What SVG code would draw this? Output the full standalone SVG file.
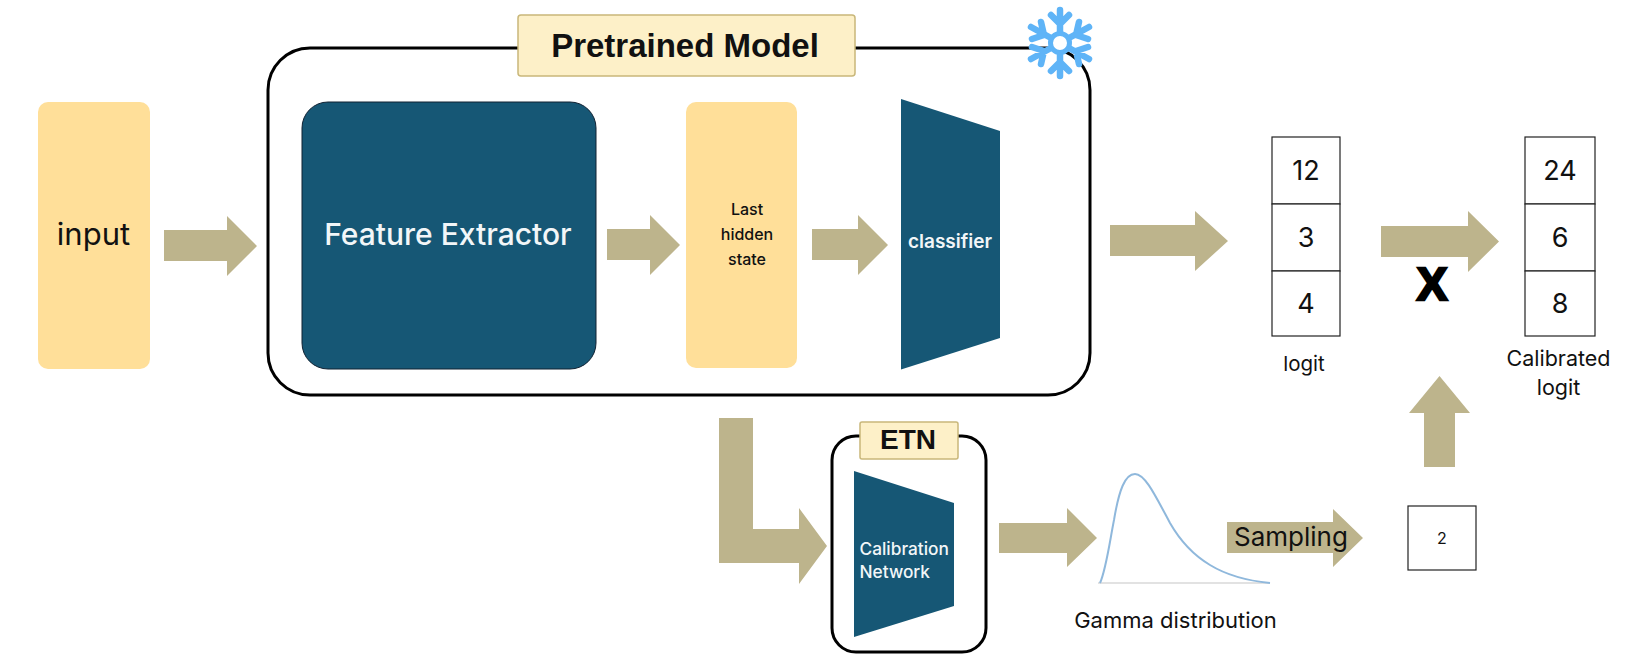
<svg xmlns="http://www.w3.org/2000/svg" width="1632" height="666" viewBox="0 0 1632 666">
<defs><style>
text{font-family:"Inter","Liberation Sans",sans-serif;text-anchor:middle;fill:#111}
.bold{font-family:"Liberation Sans",sans-serif;font-weight:700}
.a{fill:#bdb48c}
.y{fill:#ffdf99}
.b{fill:#165775}
.w{fill:#f2f6f8}
.t{fill:#fdf0c8;stroke:#c9b77a;stroke-width:1.5}
.c{fill:#fff;stroke:#222;stroke-width:1.2}
.f{fill:none;stroke:#000;stroke-width:3}
.s{fill:none;stroke:#5fb4f7;stroke-width:6.500;stroke-linecap:round;stroke-linejoin:round}
</style></defs>
<rect width="1632" height="666" fill="#fff"/>
<g id="connectors">
<path class="a" d="M164 230H227V216L257 246L227 276V261H164Z"/>
<path class="a" d="M607 229H650V215L680 245L650 275V260H607Z"/>
<path class="a" d="M812 229H858V215L888 245L858 275V260H812Z"/>
<path class="a" d="M1110 225H1195V211L1228 241L1195 271V256H1110Z"/>
<path class="a" d="M1381 226H1468V211L1499 241.500L1468 272V257H1381Z"/>
<path class="a" d="M1424 467V413H1409L1439.500 376L1470 413H1455V467Z"/>
<path class="a" d="M719 418H753V529H799V508L827 546L799 584V563H719Z"/>
<path class="a" d="M999 523H1067V508L1097 538L1067 567V553H999Z"/>
<path class="a" d="M1227 522H1333V509L1363 538L1333 567V553H1227Z"/>
</g>
<g id="input"><rect class="y" x="38" y="102" width="112" height="267" rx="10"/><text x="93.500" y="245" font-size="31">input</text></g>
<g id="pretrained-model">
<rect class="f" x="268" y="48" width="822" height="347" rx="42"/>
<rect class="t" x="518" y="15" width="337" height="61" rx="3"/>
<text class="bold" x="685" y="57" font-size="33">Pretrained Model</text>
</g>
<g id="snowflake">
<path class="s" d="M1060 33V10M1060 53V76M1051 38L1031 27M1069 48L1089 59M1069 38L1089 27M1051 48L1031 59M1051 15L1060 24L1069 15M1051 71L1060 62L1069 71M1032 39L1044 35L1041 22M1088 47L1076 51L1079 64M1088 39L1076 35L1079 22M1032 47L1044 51L1041 64"/>
<circle cx="1060" cy="43" r="9.500" fill="#fff" stroke="#5fb4f7" stroke-width="5"/>
</g>
<g id="feature-extractor"><rect class="b" x="302" y="102" width="294" height="267" rx="26" stroke="#123" stroke-width="1"/><text class="w" x="448" y="245" font-size="30" font-weight="500">Feature Extractor</text></g>
<g id="last-hidden-state"><rect class="y" x="686" y="102" width="111" height="266" rx="10"/><text x="747" y="215" font-size="16" font-weight="500">Last</text><text x="747" y="240" font-size="16" font-weight="500">hidden</text><text x="747" y="265" font-size="16" font-weight="500">state</text></g>
<g id="classifier"><path class="b" d="M901 99L1000 131V338L901 369.500Z"/><text class="w" x="950" y="248" font-size="19" font-weight="600">classifier</text></g>
<g id="logit">
<rect class="c" x="1272" y="137" width="68" height="67"/><rect class="c" x="1272" y="204" width="68" height="67"/><rect class="c" x="1272" y="271" width="68" height="65"/>
<text x="1306" y="180" font-size="27">12</text><text x="1306" y="247" font-size="27">3</text><text x="1306" y="313" font-size="27">4</text>
<text x="1304" y="371" font-size="20.500">logit</text>
</g>
<g id="calibrated-logit">
<rect class="c" x="1525" y="137" width="70" height="67"/><rect class="c" x="1525" y="204" width="70" height="67"/><rect class="c" x="1525" y="271" width="70" height="65"/>
<text x="1560" y="180" font-size="27">24</text><text x="1560" y="247" font-size="27">6</text><text x="1560" y="313" font-size="27">8</text>
<text x="1558.500" y="366" font-size="21.500">Calibrated</text><text x="1558.500" y="395" font-size="21.500">logit</text>
</g>
<g id="multiply"><text class="bold" x="1432" y="300" font-size="46" stroke="#000" stroke-width="2.500" style="fill:#000">X</text></g>
<g id="etn">
<rect class="f" x="832" y="436" width="154" height="216" rx="24"/>
<rect class="t" x="860" y="422" width="98" height="37" rx="2"/>
<text class="bold" x="908" y="449" font-size="28">ETN</text>
</g>
<g id="calibration-network"><path class="b" d="M854 471L954 503V606L854 637Z"/>
<text class="w" style="text-anchor:start" x="859.500" y="555" font-size="17.300" font-weight="500">Calibration</text><text class="w" style="text-anchor:start" x="859.500" y="578" font-size="17.300" font-weight="500">Network</text></g>
<g id="gamma-distribution">
<path d="M1098 583H1270" fill="none" stroke="#d9d9d9" stroke-width="1.500"/>
<path d="M1100 583C1106 570 1110 540 1114 520C1119 490 1125 474 1135 474C1145 474 1155 495 1170 523C1182 544 1195 556 1210 565C1228 576 1250 581 1270 583" fill="none" stroke="#8fb8dc" stroke-width="2"/>
<text x="1175.500" y="628" font-size="22">Gamma distribution</text>
</g>
<g id="sampling-label"><text x="1291" y="546" font-size="26">Sampling</text></g>
<g id="sample"><rect class="c" x="1408" y="506" width="68" height="64"/><text x="1442" y="544" font-size="16">2</text></g>
</svg>
